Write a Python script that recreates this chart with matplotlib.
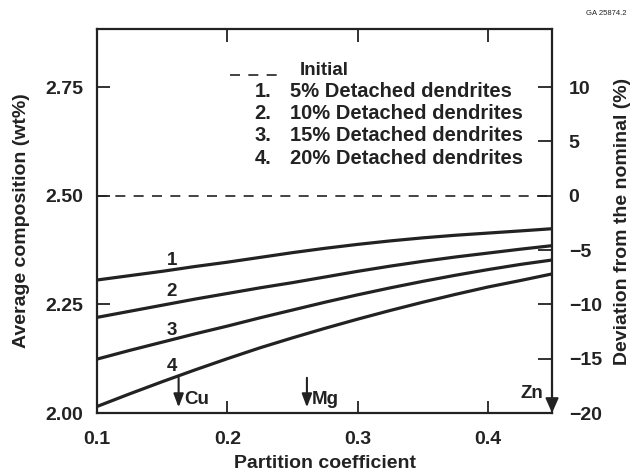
import numpy as np
import matplotlib
matplotlib.use("Agg")
import matplotlib.pyplot as plt

plt.rcParams['font.family'] = ['Liberation Sans', 'DejaVu Sans']
plt.rcParams['font.weight'] = 'bold'

INK = '#222222'

# --- data ---
k = [0.100, 0.125, 0.150, 0.175, 0.200, 0.225, 0.250, 0.275,
     0.300, 0.325, 0.350, 0.375, 0.400, 0.425, 0.449]
curve_1 = [2.306, 2.316, 2.326, 2.337, 2.347, 2.358, 2.369, 2.379,
           2.388, 2.396, 2.403, 2.409, 2.414, 2.419, 2.424]
curve_2 = [2.220, 2.234, 2.248, 2.262, 2.275, 2.288, 2.300, 2.313,
           2.326, 2.338, 2.349, 2.359, 2.368, 2.377, 2.385]
curve_3 = [2.124, 2.144, 2.163, 2.182, 2.200, 2.219, 2.237, 2.255,
           2.272, 2.288, 2.303, 2.317, 2.330, 2.342, 2.352]
curve_4 = [2.015, 2.044, 2.072, 2.099, 2.125, 2.150, 2.173, 2.195,
           2.216, 2.236, 2.255, 2.273, 2.290, 2.305, 2.320]
curves = [curve_1, curve_2, curve_3, curve_4]
curve_labels = ['1', '2', '3', '4']
label_k = 0.1575
label_y = [2.352, 2.279, 2.190, 2.107]

legend_nums = ['1.', '2.', '3.', '4.']
legend_texts = ['5% Detached dendrites', '10% Detached dendrites',
                '15% Detached dendrites', '20% Detached dendrites']

nominal = 2.50
elements = ['Cu', 'Mg', 'Zn']
element_k = [0.1626, 0.261, 0.449]

xticks = [0.1, 0.2, 0.3, 0.4]
yticks = [2.00, 2.25, 2.50, 2.75]
dev_ticks = [-20, -15, -10, -5, 0, 5, 10]

fig = plt.figure(figsize=(6.36, 4.75), dpi=100)
ax = fig.add_axes([0.1525, 0.1305, 0.7155, 0.808])
ax.set_xlim(0.1, 0.449)
ax.set_ylim(2.0, 2.883)

for c in curves:
    ax.plot(k, c, color=INK, lw=2.3, solid_capstyle='butt')
ax.axhline(nominal, color=INK, lw=1.2, ls=(0, (6, 5)))

for lab, y in zip(curve_labels, label_y):
    ax.text(label_k, y, lab, fontsize=13.5, ha='center', va='center', color=INK)

# element arrows
arrow_kw = dict(arrowstyle='-|>,head_length=0.8,head_width=0.3', lw=1.5,
                color=INK, shrinkA=0, shrinkB=0)
for el, ek in zip(elements[:2], element_k[:2]):
    ax.annotate('', xy=(ek, 2.013), xytext=(ek, 2.081), arrowprops=arrow_kw)
    ax.text(ek + 0.004, 2.030, el, fontsize=13.5, ha='left', va='center', color=INK)
ax.annotate('', xy=(element_k[2], 2.0), xytext=(element_k[2], 2.07),
            arrowprops=dict(arrowstyle='-|>,head_length=0.9,head_width=0.4',
                            lw=1.4, color=INK, shrinkA=0, shrinkB=0),
            annotation_clip=False)
ax.text(0.4422, 2.046, elements[2], fontsize=13.5, ha='right', va='center', color=INK)

# legend drawn by hand, as in the figure
ax.plot([0.292, 0.413], [0.880, 0.880], transform=ax.transAxes, color=INK,
        lw=1.2, ls=(0, (6, 5)))
ax.text(0.446, 0.893, 'Initial', transform=ax.transAxes, fontsize=13.5,
        ha='left', va='center', color=INK)
row_y = [0.838, 0.781, 0.724, 0.664]
for num, txt, y in zip(legend_nums, legend_texts, row_y):
    ax.text(0.383, y, num, transform=ax.transAxes, fontsize=14.5,
            ha='right', va='center', color=INK)
    ax.text(0.424, y, txt, transform=ax.transAxes, fontsize=14.5,
            ha='left', va='center', color=INK)

# axes styling
for s in ax.spines.values():
    s.set_linewidth(1.6)
    s.set_color(INK)
ax.set_xticks(xticks)
ax.set_xticklabels([f'{t:.1f}' for t in xticks])
ax.set_yticks(yticks)
ax.set_yticklabels([f'{t:.2f}' for t in yticks])
ax.tick_params(axis='both', direction='in', length=9, width=1.3, colors=INK,
               labelsize=14, top=True, pad=10)
ax.tick_params(axis='x', pad=13)
ax.set_xlabel('Partition coefficient', fontsize=14, fontweight='bold',
              color=INK, labelpad=5)
ax.set_ylabel('Average composition (wt%)', fontsize=14, fontweight='bold',
              color=INK, labelpad=11)

# right axis: deviation from nominal
ax2 = ax.twinx()
lo, hi = ax.get_ylim()
ax2.set_ylim((lo / nominal - 1) * 100, (hi / nominal - 1) * 100)
ax2.set_yticks(dev_ticks)
ax2.set_yticklabels([f'{t}'.replace('-', '\u2212') for t in dev_ticks])
ax2.tick_params(axis='y', direction='in', length=10, width=1.3, colors=INK,
                labelsize=14, pad=12)
for s in ax2.spines.values():
    s.set_visible(False)
ax2.set_ylabel('Deviation from the nominal (%)', fontsize=14, fontweight='bold',
               color=INK, labelpad=9)

fig.text(0.985, 0.978, 'GA 25874.2', fontsize=5.5, ha='right', va='top',
         color=INK, weight='normal')

fig.savefig('out.png', dpi=100)
